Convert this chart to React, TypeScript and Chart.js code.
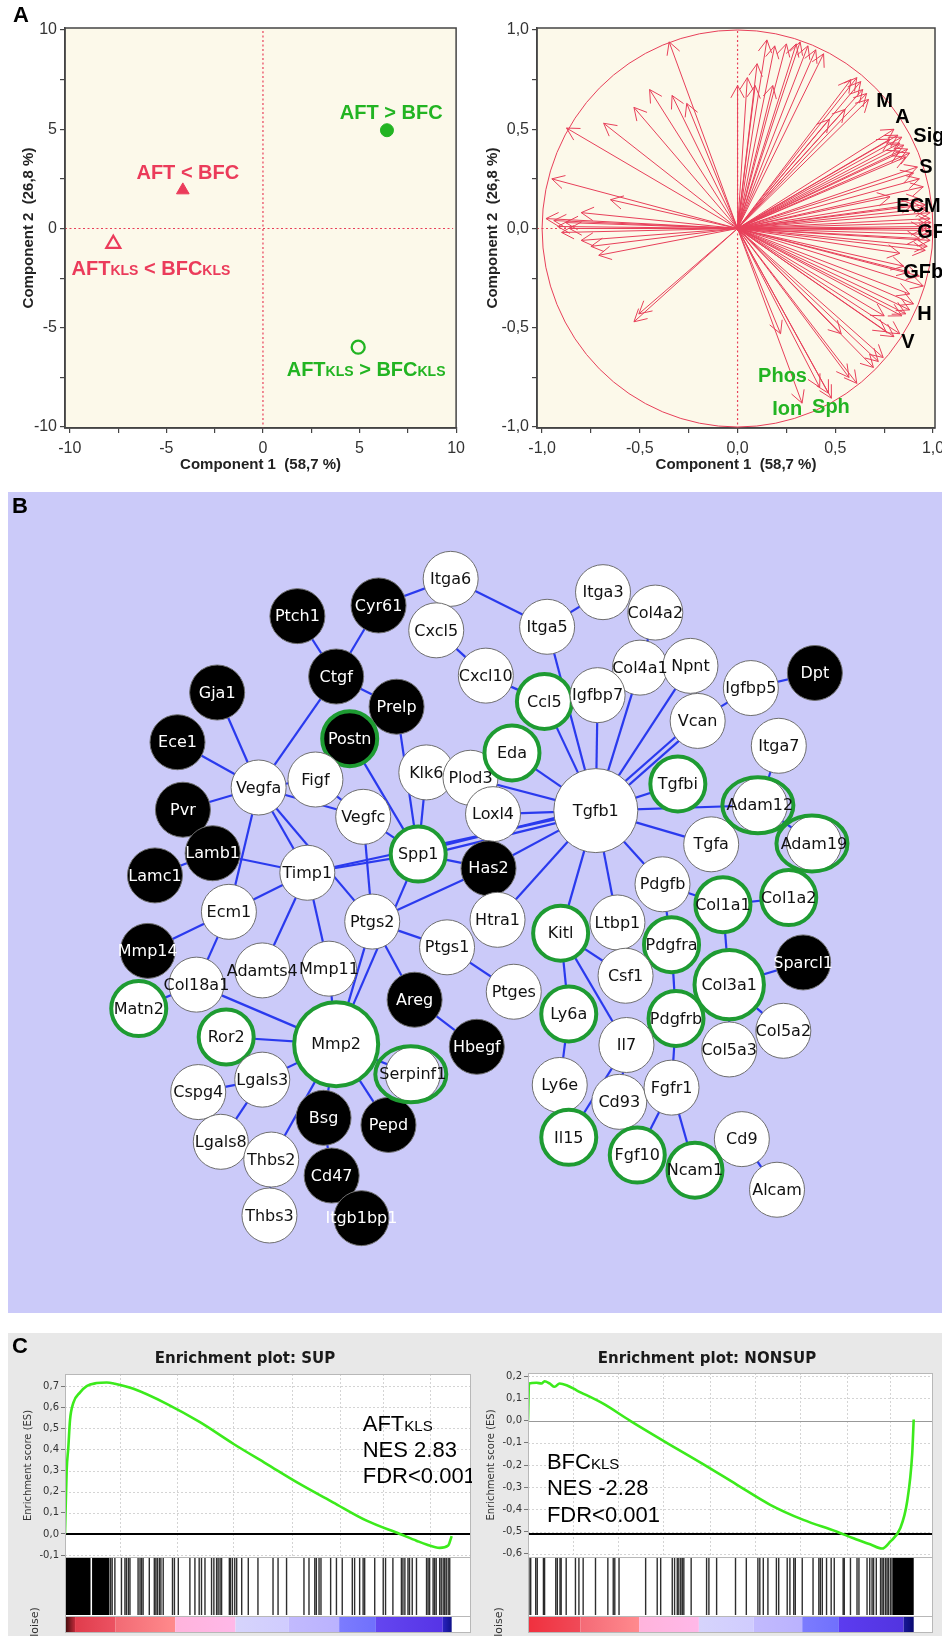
import React, { useEffect, useRef } from 'react';
import { Chart, registerables } from 'chart.js';

Chart.register(...registerables);

// ================= Panel A (left): sample scores =================
const scoreNames = ['AFT > BFC', 'AFT < BFC', 'AFT{KLS} < BFC{KLS}', 'AFT{KLS} > BFC{KLS}'];
const scoreX = [6.42, -4.15, -7.75, 4.93];
const scoreY = [4.95, 1.93, -0.77, -5.98];
const scoreLabelX = [6.64, -3.89, -5.8, 5.34];
const scoreLabelY = [5.54, 2.47, -2.32, -7.41];
const scoreUp = [true, false, false, true];
const scoreFilled = [true, true, false, false];
const scoreTicks = [-10, -7.5, -5, -2.5, 0, 2.5, 5, 7.5, 10];

// ================= Panel A (right): variable loadings =================
const loadX = [
  -0.35, -0.45, -0.335, -0.26, -0.53, -0.685, -0.875, -0.95, -0.65, -0.98, -0.94, -0.92, -0.9, -0.88, -0.86, -0.8, -0.8, -0.75, -0.71, -0.53, -0.505,
  0.0, 0.05, 0.09, 0.1, 0.15, 0.19, 0.18, 0.25, 0.3, 0.32, 0.36, 0.4, 0.44,
  0.55, 0.47, 0.58, 0.61, 0.63, 0.64, 0.66, 0.67,
  0.78, 0.8, 0.82, 0.84, 0.83, 0.85, 0.87, 0.88, 0.86, 0.83,
  0.92, 0.9, 0.93,
  0.95, 0.78, 0.93, 0.96, 0.97, 0.9,
  0.985, 0.985, 0.99, 0.99, 0.99, 0.99, 0.985, 0.97, 0.96, 0.93, 0.95,
  0.83, 0.85, 0.88, 0.93, 0.95, 0.88,
  0.88, 0.86, 0.84, 0.75, 0.9,
  0.83, 0.8, 0.53, 0.76,
  0.745, 0.72, 0.695, 0.61, 0.57, 0.48, 0.465, 0.42, 0.33, 0.22,
];
const loadY = [
  0.94, 0.7, 0.67, 0.63, 0.61, 0.53, 0.506, 0.25, 0.145, 0.05, 0.04, 0.01, -0.02, 0.03, 0.0, 0.08, -0.06, -0.09, -0.135, -0.47, -0.43,
  0.72, 0.76, 0.72, 0.83, 0.95, 0.92, 0.72, 0.93, 0.93, 0.94, 0.92, 0.9, 0.88,
  0.6, 0.55, 0.75, 0.76, 0.74, 0.7, 0.68, 0.65,
  0.45, 0.5, 0.47, 0.46, 0.43, 0.42, 0.4, 0.38, 0.36, 0.39,
  0.31, 0.28, 0.25,
  0.21, 0.16, 0.15, 0.12, 0.1, 0.12,
  0.08, 0.05, 0.03, 0.01, -0.01, -0.03, -0.06, -0.09, -0.11, -0.05, 0.0,
  -0.125, -0.19, -0.22, -0.24, -0.29, -0.33,
  -0.41, -0.43, -0.44, -0.44, -0.38,
  -0.53, -0.545, -0.53, -0.52,
  -0.65, -0.67, -0.7, -0.78, -0.75, -0.855, -0.83, -0.8, -0.88, -0.53,
];
const loadLabels = ['M', 'A', 'Sig', 'S', 'ECM', 'GF', 'GFb', 'H', 'V', 'Phos', 'Ion', 'Sph'];
const loadLabelX = [0.709, 0.807, 0.899, 0.929, 0.812, 0.919, 0.847, 0.919, 0.837, 0.105, 0.177, 0.381];
const loadLabelY = [0.64, 0.559, 0.463, 0.307, 0.111, -0.02, -0.222, -0.433, -0.574, -0.746, -0.912, -0.902];
const loadLabelGreen = [false, false, false, false, false, false, false, false, false, true, true, true];
const loadTicks = [-1, -0.75, -0.5, -0.25, 0, 0.25, 0.5, 0.75, 1];

// ================= Panel B: interaction network =================
const nodeNames = ['Itga6', 'Cyr61', 'Ptch1', 'Cxcl5', 'Ctgf', 'Gja1', 'Prelp', 'Postn', 'Ece1', 'Klk6', 'Plod3', 'Vegfa', 'Figf', 'Pvr', 'Vegfc', 'Lamb1', 'Spp1', 'Timp1', 'Lamc1', 'Loxl4', 'Has2', 'Ecm1', 'Ptgs2', 'Itga3', 'Itga5', 'Col4a2', 'Cxcl10', 'Col4a1', 'Npnt', 'Ccl5', 'Igfbp7', 'Igfbp5', 'Dpt', 'Vcan', 'Itga7', 'Eda', 'Tgfbi', 'Tgfb1', 'Adam12', 'Tgfa', 'Adam19', 'Pdgfb', 'Col1a1', 'Col1a2', 'Ptgs1', 'Mmp14', 'Adamts4', 'Mmp11', 'Col18a1', 'Areg', 'Matn2', 'Ror2', 'Mmp2', 'Hbegf', 'Serpinf1', 'Lgals3', 'Cspg4', 'Bsg', 'Pepd', 'Lgals8', 'Thbs2', 'Cd47', 'Thbs3', 'Itgb1bp1', 'Htra1', 'Kitl', 'Ltbp1', 'Pdgfra', 'Csf1', 'Col3a1', 'Sparcl1', 'Ptges', 'Ly6a', 'Pdgfrb', 'Il7', 'Col5a2', 'Col5a3', 'Ly6e', 'Cd93', 'Fgfr1', 'Il15', 'Cd9', 'Fgf10', 'Ncam1', 'Alcam'];
const nodeX = [448, 368, 278, 432, 321, 189, 388, 336, 145, 421, 470, 235, 298, 151, 351, 184, 412, 289, 120, 495, 490, 202, 361, 617, 555, 675, 487, 658, 714, 552, 611, 781, 852, 722, 812, 516, 700, 609, 791, 737, 851, 683, 750, 823, 444, 112, 239, 313, 166, 408, 102, 199, 321, 477, 406, 239, 168, 307, 379, 193, 249, 316, 247, 349, 500, 570, 633, 693, 642, 757, 839, 518, 579, 698, 643, 817, 757, 569, 635, 693, 579, 771, 655, 719, 810];
const nodeY = [538, 568, 580, 596, 648, 666, 682, 718, 722, 756, 762, 773, 764, 798, 806, 847, 848, 869, 872, 803, 864, 913, 924, 553, 592, 576, 647, 638, 636, 676, 669, 661, 644, 698, 726, 734, 769, 799, 793, 837, 836, 882, 905, 897, 953, 957, 979, 977, 995, 1012, 1022, 1054, 1062, 1065, 1096, 1102, 1116, 1145, 1153, 1172, 1192, 1210, 1255, 1258, 922, 937, 925, 950, 985, 995, 970, 1003, 1028, 1033, 1063, 1047, 1068, 1108, 1127, 1111, 1167, 1169, 1187, 1204, 1226];
const blackNodes = ['Cyr61', 'Ptch1', 'Ctgf', 'Gja1', 'Prelp', 'Postn', 'Ece1', 'Pvr', 'Lamb1', 'Lamc1', 'Has2', 'Dpt', 'Mmp14', 'Areg', 'Hbegf', 'Bsg', 'Pepd', 'Cd47', 'Itgb1bp1', 'Sparcl1'];
const ringNodes = ['Postn', 'Spp1', 'Ccl5', 'Eda', 'Tgfbi', 'Col1a1', 'Col1a2', 'Matn2', 'Ror2', 'Mmp2', 'Kitl', 'Pdgfra', 'Col3a1', 'Ly6a', 'Pdgfrb', 'Il15', 'Fgf10', 'Ncam1'];
const ellipseRingNodes = ['Adam12', 'Adam19', 'Serpinf1'];
const edgeList = [
  ['Cyr61', 'Itga6'], ['Cyr61', 'Ctgf'], ['Ptch1', 'Ctgf'], ['Ctgf', 'Prelp'], ['Ctgf', 'Vegfa'], ['Cxcl5', 'Cxcl10'],
  ['Itga6', 'Itga5'], ['Itga5', 'Itga3'], ['Itga5', 'Tgfb1'], ['Col4a2', 'Col4a1'], ['Col4a1', 'Tgfb1'], ['Npnt', 'Tgfb1'],
  ['Vcan', 'Tgfb1'], ['Vcan', 'Igfbp5'], ['Igfbp5', 'Dpt'], ['Cxcl10', 'Ccl5'], ['Ccl5', 'Tgfb1'], ['Igfbp7', 'Tgfb1'],
  ['Eda', 'Tgfb1'], ['Plod3', 'Tgfb1'], ['Loxl4', 'Tgfb1'], ['Spp1', 'Tgfb1'], ['Timp1', 'Tgfb1'], ['Has2', 'Tgfb1'],
  ['Tgfbi', 'Tgfb1'], ['Adam12', 'Tgfb1'], ['Itga7', 'Adam12'], ['Adam12', 'Adam19'], ['Tgfa', 'Tgfb1'], ['Pdgfb', 'Tgfb1'],
  ['Pdgfb', 'Col1a1'], ['Col1a1', 'Col1a2'], ['Col1a1', 'Col3a1'], ['Col3a1', 'Sparcl1'], ['Col3a1', 'Col5a2'], ['Col3a1', 'Col5a3'],
  ['Ltbp1', 'Tgfb1'], ['Kitl', 'Tgfb1'], ['Htra1', 'Tgfb1'], ['Postn', 'Spp1'], ['Prelp', 'Spp1'], ['Klk6', 'Spp1'],
  ['Vegfc', 'Spp1'], ['Timp1', 'Spp1'], ['Spp1', 'Has2'], ['Spp1', 'Mmp2'], ['Ptgs2', 'Has2'], ['Vegfa', 'Ece1'],
  ['Vegfa', 'Gja1'], ['Vegfa', 'Pvr'], ['Vegfa', 'Figf'], ['Vegfa', 'Vegfc'], ['Figf', 'Vegfc'], ['Vegfa', 'Timp1'],
  ['Vegfa', 'Ptgs2'], ['Vegfa', 'Ecm1'], ['Lamb1', 'Lamc1'], ['Lamb1', 'Timp1'], ['Timp1', 'Ecm1'], ['Timp1', 'Adamts4'],
  ['Timp1', 'Mmp11'], ['Vegfc', 'Ptgs2'], ['Ecm1', 'Mmp14'], ['Ecm1', 'Col18a1'], ['Col18a1', 'Matn2'], ['Col18a1', 'Mmp2'],
  ['Mmp11', 'Mmp2'], ['Ptgs2', 'Mmp2'], ['Ptgs2', 'Ptgs1'], ['Ptgs2', 'Areg'], ['Ptgs1', 'Ptges'], ['Areg', 'Hbegf'],
  ['Ror2', 'Mmp2'], ['Lgals3', 'Mmp2'], ['Lgals3', 'Cspg4'], ['Lgals3', 'Lgals8'], ['Mmp2', 'Serpinf1'], ['Mmp2', 'Pepd'],
  ['Mmp2', 'Bsg'], ['Mmp2', 'Thbs2'], ['Bsg', 'Cd47'], ['Cd47', 'Itgb1bp1'], ['Thbs2', 'Thbs3'], ['Kitl', 'Csf1'],
  ['Kitl', 'Ly6a'], ['Kitl', 'Il7'], ['Ly6a', 'Ly6e'], ['Il7', 'Cd93'], ['Il7', 'Il15'], ['Pdgfb', 'Pdgfra'],
  ['Pdgfra', 'Pdgfrb'], ['Pdgfrb', 'Fgfr1'], ['Fgfr1', 'Fgf10'], ['Fgfr1', 'Ncam1'], ['Ncam1', 'Cd9'], ['Cd9', 'Alcam'],
];
const doubleEdges = ['Vcan-Tgfb1', 'Spp1-Tgfb1'];

// ================= Panel C: enrichment plots =================
const supRank = [0, 0.43, 0.86, 1.3, 2.15, 3.9, 5.6, 8.2, 10.8, 12.9, 17.7, 26.3, 34.9, 43.5, 52.1, 60.7, 69.3, 78, 86.6, 90.9, 93.5, 96.9, 99.1, 100];
const supES = [0, 0.3, 0.41, 0.54, 0.62, 0.67, 0.7, 0.714, 0.717, 0.711, 0.687, 0.616, 0.529, 0.427, 0.332, 0.237, 0.15, 0.063, 0, -0.032, -0.05, -0.066, -0.055, -0.01];
const supHits = [11.8, 12.2, 12.9, 14.6, 15.5, 15.9, 16.4, 16.8, 18.9, 19.4, 19.8, 20.2, 21.8, 23.1, 23.5, 23.9, 24.4, 24.8, 25.4, 27.8, 28.3, 29.3, 32.3, 33.6, 34.7, 35.3, 36.2, 37.9, 38.5, 39.2, 39.6, 40.1, 40.5, 42.5, 42.8, 43.3, 43.9, 44.4, 45.7, 47.4, 49.9, 53.8, 55.1, 57.3, 61.8, 63.1, 64.6, 65.0, 65.7, 66.2, 68.7, 70.2, 71.7, 74.3, 74.9, 76.2, 77.1, 77.5, 80.1, 82.3, 82.9, 84.8, 87.0, 87.4, 87.9, 88.7, 89.1, 89.8, 90.9, 93.5, 93.9, 94.3, 95.2, 95.6, 96.0, 96.9, 97.3, 97.8, 98.2, 98.6, 99.1, 99.5];
const supBlocks = [[0, 6.6], [7.0, 11.5]];
const supYTicks = [-0.1, 0, 0.1, 0.2, 0.3, 0.4, 0.5, 0.6, 0.7];
const supGridX = [14.2, 28.9, 43.5, 58.6, 71.1, 82.3, 94.3];
const supBaseline = 0;
const supNote = ['AFT{KLS}', 'NES 2.83', 'FDR<0.001'];
const supNoteRank = 77;
const supNoteES = [0.487, 0.364, 0.241];

const nonsupRank = [0, 0.26, 2.2, 3.5, 4.3, 5.6, 6.9, 8.2, 10, 12.6, 19.5, 26.4, 35.1, 45.5, 54.1, 62.8, 71.4, 80.1, 84.4, 88.7, 91.8, 93.9, 96.5, 98.3, 99.6, 100];
const nonsupES = [0, 0.167, 0.17, 0.167, 0.177, 0.167, 0.152, 0.167, 0.159, 0.136, 0.076, 0, -0.091, -0.197, -0.288, -0.379, -0.447, -0.5, -0.53, -0.557, -0.576, -0.545, -0.485, -0.364, -0.152, 0.005];
const nonsupHits = [0.26, 0.7, 2.0, 2.4, 4.0, 4.3, 7.2, 7.6, 8.3, 8.6, 9.9, 12.3, 13.2, 14.3, 17.5, 20.7, 22.1, 22.5, 23.6, 30.5, 33.5, 34.4, 37.4, 38.0, 38.7, 39.1, 39.6, 40.0, 40.4, 42.3, 46.3, 46.9, 48.9, 53.8, 56.6, 59.6, 60.1, 61.0, 62.2, 64.4, 65.0, 67.2, 67.9, 68.9, 69.3, 71.1, 73.9, 75.4, 75.8, 76.3, 77.4, 78.6, 79.4, 81.7, 82.0, 83.6, 85.3, 85.8, 87.9, 88.6, 89.2, 89.6, 90.3, 91.4, 91.8, 92.2, 92.7, 93.1, 93.5, 94.0, 94.4];
const nonsupBlocks = [[94.6, 100]];
const nonsupYTicks = [-0.6, -0.5, -0.4, -0.3, -0.2, -0.1, 0, 0.1, 0.2];
const nonsupGridX = [11.7, 23.4, 35.1, 47.2, 58.9, 70.6, 82.7, 93.9];
const nonsupBaseline = -0.51;
const nonsupNote = ['BFC{KLS}', 'NES -2.28', 'FDR<0.001'];
const nonsupNoteRank = 4.9;
const nonsupNoteES = [-0.218, -0.336, -0.455];

// ================= styles =================
const PCA_RED = '#EB3B5A';
const PCA_GREEN = '#22B422';
const VEC_RED = '#E8405A';
const CREAM = '#FCF9EA';
const LAVENDER = '#CBCAF9';
const EDGE_BLUE = '#2A3AEE';
const RING_GREEN = '#1E9B32';
const ES_GREEN = '#3CEA1C';

const supStripPos = [0, 2.6, 2.6, 13, 13, 28.5, 28.5, 44.1, 44.1, 57.9, 57.9, 70.9, 70.9, 80.4, 80.4, 97.7, 97.7, 100];
const supStripCol = ['#3c0a0a', '#c02a3a', '#e03c4c', '#ec5262', '#f26a74', '#ff8a8c', '#ffb4dc', '#ffb8e8', '#d6d4fc', '#d0ccfe', '#c2bafe', '#bab2fe', '#7c7cfe', '#7070fc', '#6446f0', '#5634e6', '#2a22c0', '#10128a'];
const nonsupStripPos = [0, 13.6, 13.6, 28.8, 28.8, 44.3, 44.3, 58.5, 58.5, 71.1, 71.1, 80.6, 80.6, 97.4, 97.4, 100];
const nonsupStripCol = ['#f0303e', '#f04a58', '#f46a76', '#ff8a8e', '#ffb4dc', '#ffb8e8', '#d6d4fc', '#d0ccfe', '#c2bafe', '#bab2fe', '#7c7cfe', '#7070fc', '#5c3cf0', '#5234e0', '#181898', '#0a0a70'];

// ================= helpers =================
function parseRich(s) {
  const out = [];
  const re = /\{([^}]*)\}|([^{]+)/g;
  let m;
  while ((m = re.exec(s))) {
    if (m[1] !== undefined) out.push([m[1], true]);
    else out.push([m[2], false]);
  }
  return out;
}

function drawRich(ctx, text, x, y, big, small, weight, family, color, align) {
  const parts = parseRich(text);
  const fontFor = (s) => `${weight} ${s ? small : big}px "${family}"`;
  let total = 0;
  parts.forEach(([t, s]) => { ctx.font = fontFor(s); total += ctx.measureText(t).width; });
  let cx = align === 'center' ? x - total / 2 : x;
  ctx.fillStyle = color;
  ctx.textAlign = 'left';
  ctx.textBaseline = 'alphabetic';
  parts.forEach(([t, s]) => { ctx.font = fontFor(s); ctx.fillText(t, cx, y); cx += ctx.measureText(t).width; });
}

function line(ctx, x0, y0, x1, y1) {
  ctx.beginPath(); ctx.moveTo(x0, y0); ctx.lineTo(x1, y1); ctx.stroke();
}

const baseOptions = {
  animation: false,
  responsive: false,
  maintainAspectRatio: false,
  devicePixelRatio: 1,
  events: [],
};

function pcaAxis(min, max, ticks, fmt, title, isX, fitSize, titlePad) {
  return {
    type: 'linear',
    min, max,
    afterBuildTicks: (s) => { s.ticks = ticks.map((v) => ({ value: v })); },
    afterFit: (s) => { if (isX) s.height = fitSize; else s.width = fitSize; },
    grid: { drawOnChartArea: false, drawTicks: true, tickLength: 5, color: '#444', lineWidth: 1.2 },
    border: { display: true, color: '#444', width: 1.5 },
    ticks: { color: '#333', font: { family: 'Liberation Sans', size: 16 }, padding: isX ? 6 : 3, callback: fmt, autoSkip: false, maxRotation: 0 },
    title: { display: true, text: title, color: '#222', font: { family: 'Liberation Sans', size: 15, weight: 'bold' }, padding: isX ? { top: 0, bottom: titlePad } : { top: titlePad, bottom: 0 } },
  };
}

const fmtInt = (v) => (Math.abs(v % 5) < 1e-9 ? String(v) : '');
const fmtHalf = (v) => (Math.abs(v * 2 - Math.round(v * 2)) < 1e-9 ? v.toFixed(1).replace('.', ',') : '');
const fmtComma = (v) => (Math.abs(v) < 1e-9 ? 0 : v).toFixed(1).replace('.', ',');

const framePlugin = {
  id: 'frame',
  beforeDraw(chart) {
    const { ctx, chartArea: a } = chart;
    ctx.save();
    ctx.fillStyle = CREAM;
    ctx.fillRect(a.left, a.top, a.width, a.height);
    ctx.restore();
  },
  beforeDatasetsDraw(chart) {
    const { ctx, chartArea: a, scales: { x, y } } = chart;
    ctx.save();
    ctx.strokeStyle = VEC_RED;
    ctx.lineWidth = 1.2;
    ctx.setLineDash([2, 2.5]);
    const x0 = x.getPixelForValue(0);
    const y0 = y.getPixelForValue(0);
    line(ctx, x0, a.top + 3, x0, a.bottom);
    line(ctx, a.left, y0, a.right - 3, y0);
    ctx.setLineDash([]);
    ctx.strokeStyle = '#444';
    ctx.lineWidth = 1.5;
    ctx.strokeRect(a.left, a.top, a.width, a.height);
    ctx.restore();
  },
};

// ================= chart factories =================
function makeScores() {
  return {
    type: 'scatter',
    data: {
      datasets: [{
        data: scoreX.map((x, i) => ({ x, y: scoreY[i] })),
        pointStyle: scoreUp.map((u) => (u ? 'circle' : 'triangle')),
        pointRadius: scoreUp.map((u, i) => (u ? 6.5 : scoreFilled[i] ? 7.3 : 8)),
        pointBackgroundColor: scoreUp.map((u, i) => (scoreFilled[i] ? (u ? PCA_GREEN : PCA_RED) : 'rgba(0,0,0,0)')),
        pointBorderColor: scoreUp.map((u) => (u ? PCA_GREEN : PCA_RED)),
        pointBorderWidth: scoreFilled.map((f) => (f ? 1 : 2.3)),
      }],
    },
    options: {
      ...baseOptions,
      layout: { padding: { top: 28, right: 8, left: 0, bottom: 0 } },
      plugins: { legend: { display: false }, tooltip: { enabled: false } },
      scales: {
        x: pcaAxis(-10.25, 10, scoreTicks, fmtInt, 'Component 1  (58,7 %)', true, 52, 6),
        y: pcaAxis(-10.05, 10.1, scoreTicks, fmtInt, 'Component 2  (26,8 %)', false, 65, 20),
      },
    },
    plugins: [framePlugin, {
      id: 'scoreLabels',
      afterDatasetsDraw(chart) {
        const { ctx, scales: { x, y } } = chart;
        ctx.save();
        scoreNames.forEach((n, i) => {
          drawRich(ctx, n, x.getPixelForValue(scoreLabelX[i]), y.getPixelForValue(scoreLabelY[i]), 20, 14, 'bold', 'Liberation Sans', scoreUp[i] ? PCA_GREEN : PCA_RED, 'center');
        });
        ctx.restore();
      },
    }],
  };
}

function makeLoadings() {
  return {
    type: 'scatter',
    data: {
      datasets: [{ data: loadX.map((x, i) => ({ x, y: loadY[i] })), pointRadius: 0 }],
    },
    options: {
      ...baseOptions,
      layout: { padding: { top: 28, right: 56, left: 0, bottom: 0 } },
      plugins: { legend: { display: false }, tooltip: { enabled: false } },
      scales: {
        x: pcaAxis(-1.026, 1.01, loadTicks, fmtHalf, 'Component 1  (58,7 %)', true, 52, 6),
        y: pcaAxis(-1.005, 1.01, loadTicks, fmtHalf, 'Component 2  (26,8 %)', false, 66, 13),
      },
    },
    plugins: [framePlugin, {
      id: 'vectors',
      afterDatasetsDraw(chart) {
        const { ctx, scales: { x, y } } = chart;
        const cx = x.getPixelForValue(0);
        const cy = y.getPixelForValue(0);
        ctx.save();
        ctx.strokeStyle = VEC_RED;
        ctx.lineWidth = 1;
        ctx.beginPath();
        ctx.ellipse(cx, cy, x.getPixelForValue(1) - cx, cy - y.getPixelForValue(1), 0, 0, Math.PI * 2);
        ctx.stroke();
        const head = 14;
        const ang = 0.5;
        chart.data.datasets[0].data.forEach((p) => {
          const px = x.getPixelForValue(p.x);
          const py = y.getPixelForValue(p.y);
          const a = Math.atan2(py - cy, px - cx);
          ctx.beginPath();
          ctx.moveTo(cx, cy);
          ctx.lineTo(px, py);
          ctx.moveTo(px - head * Math.cos(a - ang), py - head * Math.sin(a - ang));
          ctx.lineTo(px, py);
          ctx.lineTo(px - head * Math.cos(a + ang), py - head * Math.sin(a + ang));
          ctx.stroke();
        });
        ctx.font = 'bold 20px "Liberation Sans"';
        ctx.textAlign = 'left';
        ctx.textBaseline = 'middle';
        loadLabels.forEach((t, i) => {
          ctx.fillStyle = loadLabelGreen[i] ? PCA_GREEN : '#000';
          ctx.fillText(t, x.getPixelForValue(loadLabelX[i]), y.getPixelForValue(loadLabelY[i]));
        });
        ctx.restore();
      },
    }],
  };
}

const NODE_RADIUS = 27.5;
const HUB_RADIUS = { Tgfb1: 42, Mmp2: 42, Col3a1: 34.7 };

function makeNetwork() {
  const index = {};
  nodeNames.forEach((n, i) => { index[n] = i; });
  return {
    type: 'scatter',
    data: {
      datasets: [{
        data: nodeX.map((x, i) => ({ x, y: nodeY[i] })),
        pointRadius: nodeNames.map((n) => HUB_RADIUS[n] || NODE_RADIUS),
        pointBackgroundColor: nodeNames.map((n) => (blackNodes.includes(n) ? '#000' : '#fff')),
        pointBorderColor: nodeNames.map((n) => (ringNodes.includes(n) ? RING_GREEN : '#6e6e6e')),
        pointBorderWidth: nodeNames.map((n) => (ringNodes.includes(n) ? 4 : 1)),
        clip: false,
      }],
    },
    options: {
      ...baseOptions,
      layout: { padding: 0 },
      plugins: { legend: { display: false }, tooltip: { enabled: false } },
      scales: {
        x: { type: 'linear', display: false, min: 8, max: 942 },
        y: { type: 'linear', display: false, min: 492, max: 1313, reverse: true },
      },
    },
    plugins: [{
      id: 'edges',
      beforeDatasetsDraw(chart) {
        const { ctx, scales: { x, y } } = chart;
        ctx.save();
        ctx.strokeStyle = EDGE_BLUE;
        ctx.lineWidth = 2.2;
        edgeList.forEach(([a, b]) => {
          const ia = index[a];
          const ib = index[b];
          const x0 = x.getPixelForValue(nodeX[ia]);
          const y0 = y.getPixelForValue(nodeY[ia]);
          const x1 = x.getPixelForValue(nodeX[ib]);
          const y1 = y.getPixelForValue(nodeY[ib]);
          if (doubleEdges.includes(`${a}-${b}`)) {
            const len = Math.hypot(x1 - x0, y1 - y0);
            const nx = (-(y1 - y0) / len) * 2.6;
            const ny = ((x1 - x0) / len) * 2.6;
            line(ctx, x0 + nx, y0 + ny, x1 + nx, y1 + ny);
            line(ctx, x0 - nx, y0 - ny, x1 - nx, y1 - ny);
          } else {
            line(ctx, x0, y0, x1, y1);
          }
        });
        ctx.restore();
      },
      afterDatasetsDraw(chart) {
        const { ctx, scales: { x, y } } = chart;
        ctx.save();
        ctx.strokeStyle = RING_GREEN;
        ctx.lineWidth = 4;
        ellipseRingNodes.forEach((n) => {
          const i = index[n];
          ctx.beginPath();
          ctx.ellipse(x.getPixelForValue(nodeX[i]) - 2, y.getPixelForValue(nodeY[i]), 35.5, 28, 0, 0, Math.PI * 2);
          ctx.stroke();
        });
        ctx.font = '16px "DejaVu Sans"';
        ctx.textAlign = 'center';
        ctx.textBaseline = 'middle';
        nodeNames.forEach((n, i) => {
          ctx.fillStyle = blackNodes.includes(n) ? '#fff' : '#111';
          ctx.fillText(n, x.getPixelForValue(nodeX[i]), y.getPixelForValue(nodeY[i]) + 1);
        });
        ctx.restore();
      },
    }],
  };
}

function makeGsea(o) {
  return () => ({
    type: 'line',
    data: {
      datasets: [{
        data: o.rank.map((r, i) => ({ x: r, y: o.es[i] })),
        borderColor: ES_GREEN,
        borderWidth: 2.6,
        pointRadius: 0,
        cubicInterpolationMode: 'monotone',
        fill: false,
      }],
    },
    options: {
      ...baseOptions,
      layout: { padding: { top: o.top, right: o.right, left: 0, bottom: o.bottomPad } },
      plugins: { legend: { display: false }, tooltip: { enabled: false } },
      scales: {
        x: { type: 'linear', display: false, min: 0, max: 105 },
        y: {
          type: 'linear',
          min: o.yMin, max: o.yMax,
          afterBuildTicks: (s) => { s.ticks = o.yTicks.map((v) => ({ value: v })); },
          afterFit: (s) => { s.width = o.axisW; },
          grid: { drawOnChartArea: false, drawTicks: true, tickLength: 4, color: '#777' },
          border: { display: true, color: '#aaa' },
          ticks: { color: '#333', font: { family: 'DejaVu Sans', size: 10 }, padding: 2, callback: fmtComma, autoSkip: false },
          title: { display: true, text: 'Enrichment score (ES)', color: '#333', font: { family: 'DejaVu Sans', size: 10 }, padding: { top: o.titlePad, bottom: 0 } },
        },
      },
    },
    plugins: [{
      id: 'gsea',
      beforeDraw(chart) {
        const { ctx, chartArea: a } = chart;
        ctx.save();
        ctx.fillStyle = '#fff';
        ctx.fillRect(a.left, a.top, a.width, o.stripBottom - a.top);
        ctx.restore();
      },
      beforeDatasetsDraw(chart) {
        const { ctx, chartArea: a, scales: { x, y } } = chart;
        ctx.save();
        ctx.strokeStyle = '#d4d4d4';
        ctx.lineWidth = 1;
        ctx.setLineDash([2, 2]);
        o.yTicks.forEach((v) => { const py = Math.round(y.getPixelForValue(v)) + 0.5; line(ctx, a.left, py, a.right, py); });
        o.gridX.forEach((v) => { const px = Math.round(x.getPixelForValue(v)) + 0.5; line(ctx, px, a.top, px, a.bottom); });
        ctx.setLineDash([]);
        if (o.baseline !== 0) {
          ctx.strokeStyle = '#999';
          ctx.lineWidth = 1;
          const pz = Math.round(y.getPixelForValue(0)) + 0.5;
          line(ctx, a.left, pz, a.right, pz);
        }
        ctx.strokeStyle = '#000';
        ctx.lineWidth = 2;
        const pb = y.getPixelForValue(o.baseline);
        line(ctx, a.left, pb, a.right, pb);
        ctx.restore();
      },
      afterDatasetsDraw(chart) {
        const { ctx, chartArea: a, scales: { x } } = chart;
        ctx.save();
        const top = a.bottom + 1;
        // barcode
        ctx.fillStyle = '#000';
        o.blocks.forEach(([b0, b1]) => {
          const p0 = x.getPixelForValue(b0);
          const p1 = x.getPixelForValue(b1);
          ctx.fillRect(p0, top, p1 - p0, o.barBottom - top);
        });
        ctx.fillStyle = 'rgba(0,0,0,0.82)';
        o.hits.forEach((h) => {
          const px = x.getPixelForValue(h);
          ctx.fillRect(px - 0.7, top, 1.4, o.barBottom - top);
        });
        // ranked-metric colour strip
        for (let i = 0; i + 1 < o.stripPos.length; i += 2) {
          const p0 = x.getPixelForValue(o.stripPos[i]);
          const p1 = x.getPixelForValue(o.stripPos[i + 1]);
          const g = ctx.createLinearGradient(p0, 0, p1, 0);
          g.addColorStop(0, o.stripCol[i]);
          g.addColorStop(1, o.stripCol[i + 1]);
          ctx.fillStyle = g;
          ctx.fillRect(p0, o.stripTop, p1 - p0, o.stripBottom - o.stripTop);
        }
        // frames
        ctx.strokeStyle = '#b8b8b8';
        ctx.lineWidth = 1;
        ctx.strokeRect(a.left + 0.5, a.top + 0.5, a.width - 1, o.stripBottom - a.top);
        line(ctx, a.left, a.bottom + 0.5, a.right, a.bottom + 0.5);
        line(ctx, a.left, o.barBottom + 1.5, a.right, o.barBottom + 1.5);
        // title
        ctx.fillStyle = '#1a1a1a';
        ctx.font = 'bold 15px "DejaVu Sans"';
        ctx.textAlign = 'center';
        ctx.textBaseline = 'middle';
        ctx.fillText(o.title, o.titleX, 26);
        // statistics note
        const { y } = chart.scales;
        o.note.forEach((t, i) => {
          drawRich(ctx, t, x.getPixelForValue(o.noteRank), y.getPixelForValue(o.noteES[i]), 22, 15, 'normal', 'Liberation Sans', '#000', 'left');
        });
        // clipped metric label
        ctx.save();
        ctx.translate(30, 289);
        ctx.rotate(-Math.PI / 2);
        ctx.font = '11px "DejaVu Sans"';
        ctx.fillStyle = '#333';
        ctx.textAlign = 'center';
        ctx.fillText('loise)', 0, 0);
        ctx.restore();
        ctx.restore();
      },
    }],
  });
}

const makeSup = makeGsea({
  rank: supRank, es: supES, hits: supHits, blocks: supBlocks, yTicks: supYTicks, gridX: supGridX,
  baseline: supBaseline, note: supNote, noteRank: supNoteRank, noteES: supNoteES,
  stripPos: supStripPos, stripCol: supStripCol, title: 'Enrichment plot: SUP', titleX: 237,
  top: 41, right: 1, bottomPad: 79, yMin: -0.109, yMax: 0.757, axisW: 57, titlePad: 14.4,
  barBottom: 282, stripTop: 284, stripBottom: 299,
});

const makeNonsup = makeGsea({
  rank: nonsupRank, es: nonsupES, hits: nonsupHits, blocks: nonsupBlocks, yTicks: nonsupYTicks, gridX: nonsupGridX,
  baseline: nonsupBaseline, note: nonsupNote, noteRank: nonsupNoteRank, noteES: nonsupNoteES,
  stripPos: nonsupStripPos, stripCol: nonsupStripCol, title: 'Enrichment plot: NONSUP', titleX: 235,
  top: 40, right: 9, bottomPad: 79, yMin: -0.614, yMax: 0.214, axisW: 56, titlePad: 13.4,
  barBottom: 282, stripTop: 284, stripBottom: 299,
});

// ================= components =================
function ChartCanvas({ left, top, width, height, make }) {
  const ref = useRef(null);
  useEffect(() => {
    const chart = new Chart(ref.current, make());
    return () => chart.destroy();
  }, [make]);
  return (
    <canvas
      ref={ref}
      width={width}
      height={height}
      style={{ position: 'absolute', left, top, width, height, display: 'block' }}
    />
  );
}

function Letter({ text, left, top }) {
  return (
    <div style={{ position: 'absolute', left, top, font: 'bold 22px "Liberation Sans", Arial, sans-serif', lineHeight: '22px', color: '#000' }}>
      {text}
    </div>
  );
}

export default function App() {
  return (
    <div style={{ position: 'absolute', left: 0, top: 0, width: 942, height: 1636, overflow: 'hidden', background: '#fff' }}>
      <ChartCanvas left={0} top={0} width={471} height={480} make={makeScores} />
      <ChartCanvas left={471} top={0} width={520} height={480} make={makeLoadings} />
      <div style={{ position: 'absolute', left: 8, top: 492, width: 934, height: 821, background: LAVENDER }} />
      <ChartCanvas left={8} top={492} width={934} height={821} make={makeNetwork} />
      <div style={{ position: 'absolute', left: 8, top: 1333, width: 934, height: 303, background: '#E8E8E8' }} />
      <ChartCanvas left={8} top={1333} width={464} height={303} make={makeSup} />
      <ChartCanvas left={472} top={1333} width={470} height={303} make={makeNonsup} />
      <Letter text="A" left={13} top={4} />
      <Letter text="B" left={12} top={495} />
      <Letter text="C" left={12} top={1335} />
    </div>
  );
}
